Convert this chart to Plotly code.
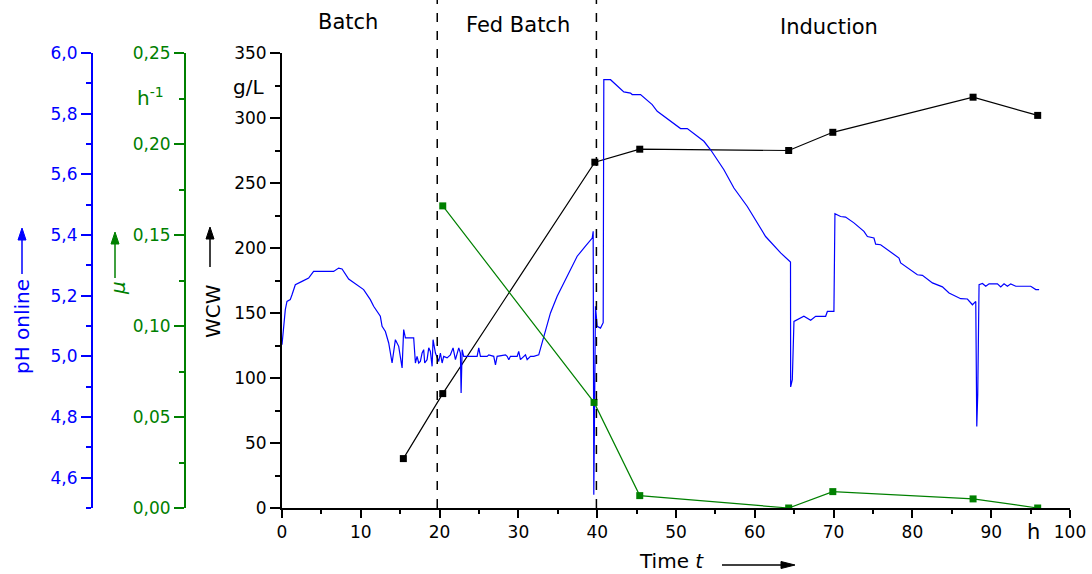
import plotly.graph_objects as go

# ---- data ----
ph_time = [0, 0.2, 0.42, 0.63, 1.05, 1.27, 1.69, 2.54, 3.38, 4.01,
           6.55, 7.19, 7.62, 8.46, 10.36, 11.21, 11.63, 12.48, 12.70, 13.12,
           13.54, 13.97, 14.39, 14.81, 15.24, 15.44, 15.66, 16.71, 16.93, 17.14,
           17.35, 17.56, 17.78, 17.98, 18.11, 18.41, 18.62, 18.83, 19.05, 19.17,
           19.47, 19.89, 20.10, 20.32, 20.52, 20.95, 21.37, 21.71, 22.01, 22.43,
           22.64, 22.73, 22.86, 23.06, 23.91, 24.76, 24.97, 25.18, 26.03, 26.24,
           26.87, 27.09, 27.30, 28.36, 28.57, 28.78, 28.99, 29.84, 30.04, 30.26,
           30.90, 31.11, 31.53, 31.95, 32.58, 33.22, 34.07, 34.92, 35.76, 36.60,
           37.46, 38.51, 39.37, 39.49, 39.57, 39.78, 40.00, 40.42, 40.76, 40.84,
           41.69, 43.38, 44.23, 44.44, 45.50, 46.98, 47.62, 50.58, 51.43, 53.54,
           54.39, 56.08, 57.35, 59.05, 60.32, 61.37, 63.28, 64.53, 64.55, 64.76,
           64.97, 66.23, 67.09, 67.72, 68.99, 69.21, 70.04, 70.17, 70.89, 71.52,
           72.58, 73.85, 74.29, 75.12, 75.34, 75.97, 78.30, 78.51, 80.63, 81.27,
           82.54, 83.17, 83.81, 84.65, 86.13, 86.98, 87.62, 88.04, 88.17, 88.29,
           88.46, 88.89, 89.31, 89.73, 90.79, 91.21, 91.63, 92.06, 92.48, 93.12,
           95.02, 95.66, 96.08]
ph_value = [5.038, 5.088, 5.154, 5.181, 5.187, 5.203, 5.236, 5.247, 5.258, 5.280,
            5.280, 5.291, 5.288, 5.255, 5.220, 5.187, 5.165, 5.132, 5.099, 5.082,
            5.044, 4.978, 5.055, 5.033, 4.962, 5.088, 5.061, 5.061, 4.978, 5.000,
            4.978, 4.983, 5.011, 5.022, 4.978, 4.989, 5.028, 5.016, 4.967, 5.055,
            5.011, 4.983, 5.011, 4.978, 5.000, 4.995, 5.005, 5.028, 4.989, 5.028,
            5.011, 4.879, 5.022, 5.000, 5.000, 5.000, 5.028, 5.000, 5.000, 5.005,
            5.000, 4.972, 5.000, 5.005, 5.000, 4.989, 5.000, 5.000, 5.016, 4.989,
            5.005, 4.989, 5.000, 5.000, 5.005, 5.066, 5.143, 5.198, 5.242, 5.286,
            5.330, 5.363, 5.390, 5.412, 4.544, 5.165, 5.099, 5.093, 5.111, 5.912,
            5.912, 5.872, 5.868, 5.863, 5.863, 5.830, 5.808, 5.751, 5.751, 5.709,
            5.681, 5.615, 5.555, 5.494, 5.440, 5.395, 5.341, 5.311, 4.899, 4.923,
            5.115, 5.132, 5.119, 5.132, 5.132, 5.148, 5.148, 5.470, 5.461, 5.459,
            5.440, 5.412, 5.395, 5.390, 5.370, 5.368, 5.324, 5.308, 5.269, 5.267,
            5.242, 5.236, 5.229, 5.209, 5.190, 5.189, 5.170, 5.181, 4.769, 4.874,
            5.236, 5.240, 5.231, 5.239, 5.239, 5.229, 5.239, 5.231, 5.239, 5.231,
            5.231, 5.220, 5.220]

wcw_time = [15.4, 20.4, 39.7, 45.4, 64.3, 69.9, 87.7, 95.9]
wcw_value = [38, 88, 266, 276, 275, 289, 316, 302]

mu_time = [20.4, 39.6, 45.4, 64.3, 69.9, 87.7, 95.9]
mu_value = [0.166, 0.058, 0.0068, 0.0, 0.009, 0.005, 0.0]

phase_bounds = [19.7, 39.9]
phase_labels = ["Batch", "Fed Batch", "Induction"]
phase_label_x = [8.4, 29.9, 69.4]

BLUE = "#0000ff"
GREEN = "#008000"
FONT = "DejaVu Sans"

W, H = 1092, 574
L_PX, R_PX, T_PX, B_PX = 282, 1070, 53, 508


def px(x):
    return x / W


def py(y):
    return (B_PX - y) / (B_PX - T_PX)


fig = go.Figure()
fig.add_trace(go.Scatter(x=ph_time, y=ph_value, yaxis="y2", mode="lines",
                         line=dict(color=BLUE, width=1.2), name="pH"))
fig.add_trace(go.Scatter(x=mu_time, y=mu_value, yaxis="y3", mode="lines+markers",
                         line=dict(color=GREEN, width=1.2),
                         marker=dict(symbol="square", size=7, color=GREEN), name="mu"))
fig.add_trace(go.Scatter(x=wcw_time, y=wcw_value, yaxis="y", mode="lines+markers",
                         line=dict(color="black", width=1.2),
                         marker=dict(symbol="square", size=7, color="black"), name="WCW"))

tickfont = dict(family=FONT, size=17)

fig.update_layout(
    width=W, height=H,
    margin=dict(l=0, r=0, t=T_PX, b=H - B_PX),
    paper_bgcolor="white", plot_bgcolor="white",
    showlegend=False,
    separators=",.",
    font=dict(family=FONT, size=17, color="black"),
    xaxis=dict(domain=[L_PX / W, R_PX / W], range=[0, 100], tick0=0, dtick=10,
               showgrid=False, zeroline=False, showline=True, linecolor="black", linewidth=2,
               ticks="outside", ticklen=8, tickwidth=2, tickcolor="black",
               minor=dict(dtick=5, tick0=0, ticks="outside", ticklen=4, tickwidth=2, tickcolor="black"),
               tickfont=dict(tickfont, color="black"), automargin=False),
    yaxis=dict(range=[0, 350], tick0=0, dtick=50, showgrid=False, zeroline=False,
               showline=True, linecolor="black", linewidth=2,
               ticks="outside", ticklen=10, tickwidth=2, tickcolor="black",
               minor=dict(dtick=25, tick0=0, ticks="outside", ticklen=5, tickwidth=2, tickcolor="black"),
               tickfont=dict(tickfont, color="black"), automargin=False),
    yaxis2=dict(range=[4.5, 6.0], tick0=4.6, dtick=0.2, tickformat=".1f",
                overlaying="y", anchor="free", position=px(92), side="left",
                showgrid=False, zeroline=False, showline=True, linecolor=BLUE, linewidth=2,
                ticks="outside", ticklen=10, tickwidth=2, tickcolor=BLUE,
                minor=dict(dtick=0.1, tick0=4.5, ticks="outside", ticklen=5, tickwidth=2, tickcolor=BLUE),
                tickfont=dict(tickfont, color=BLUE), automargin=False),
    yaxis3=dict(range=[0, 0.25], tick0=0, dtick=0.05, tickformat=".2f",
                overlaying="y", anchor="free", position=px(185), side="left",
                showgrid=False, zeroline=False, showline=True, linecolor=GREEN, linewidth=2,
                ticks="outside", ticklen=10, tickwidth=2, tickcolor=GREEN,
                minor=dict(dtick=0.025, tick0=0, ticks="outside", ticklen=5, tickwidth=2, tickcolor=GREEN),
                tickfont=dict(tickfont, color=GREEN), automargin=False),
)

for xb in phase_bounds:
    fig.add_shape(type="line", xref="x", yref="paper", x0=xb, x1=xb, y0=0, y1=py(0),
                  line=dict(color="black", width=1.5, dash="dash"), layer="above")

title_font = dict(family=FONT, size=21, color="black")
label_y = [py(22), py(25), py(27)]
for lab, lx, ly in zip(phase_labels, phase_label_x, label_y):
    fig.add_annotation(text=lab, x=lx, xref="x", y=ly, yref="paper",
                       showarrow=False, font=title_font, xanchor="center", yanchor="middle")

ann = [
    dict(text="pH online", x=px(22), y=py(327), textangle=-90, font=dict(family=FONT, size=20, color=BLUE)),
    dict(text="<i>μ</i>", x=px(118), y=py(288), textangle=-90, font=dict(family=FONT, size=20, color=GREEN)),
    dict(text="WCW", x=px(213), y=py(311), textangle=-90, font=dict(family=FONT, size=20, color="black")),
    dict(text="h<sup>-1</sup>", x=px(150), y=py(97), font=dict(family=FONT, size=20, color=GREEN)),
    dict(text="g/L", x=px(248), y=py(87), font=dict(family=FONT, size=20, color="black")),
    dict(text="h", x=px(1033), y=py(532), font=dict(family=FONT, size=21, color="black")),
    dict(text="Time <i>t</i>", x=px(671), y=py(561), font=dict(family=FONT, size=20, color="black")),
]
for a in ann:
    fig.add_annotation(xref="paper", yref="paper", showarrow=False,
                       xanchor="center", yanchor="middle", **a)

# arrows drawn as line + filled triangle head (pixel layout positions)
arrows = [
    # head x, head y, tail x, tail y, colour
    (22, 228, 22, 274, BLUE),
    (115, 232, 115, 278, GREEN),
    (210, 227, 210, 267, "black"),
    (795, 565, 722, 565, "black"),
]
for hx, hy, tx, ty, col in arrows:
    vertical = hx == tx
    if vertical:
        bx, by = hx, hy + 12
        p1, p2 = (hx - 4, by), (hx + 4, by)
    else:
        bx, by = hx - 14, hy
        p1, p2 = (bx, hy - 3.5), (bx, hy + 3.5)
    fig.add_shape(type="line", xref="paper", yref="paper",
                  x0=px(tx), y0=py(ty), x1=px(bx), y1=py(by),
                  line=dict(color=col, width=1.5))
    path = "M {} {} L {} {} L {} {} Z".format(px(hx), py(hy), px(p1[0]), py(p1[1]), px(p2[0]), py(p2[1]))
    fig.add_shape(type="path", xref="paper", yref="paper", path=path,
                  fillcolor=col, line=dict(color=col, width=1))

fig.write_html("out.html")
